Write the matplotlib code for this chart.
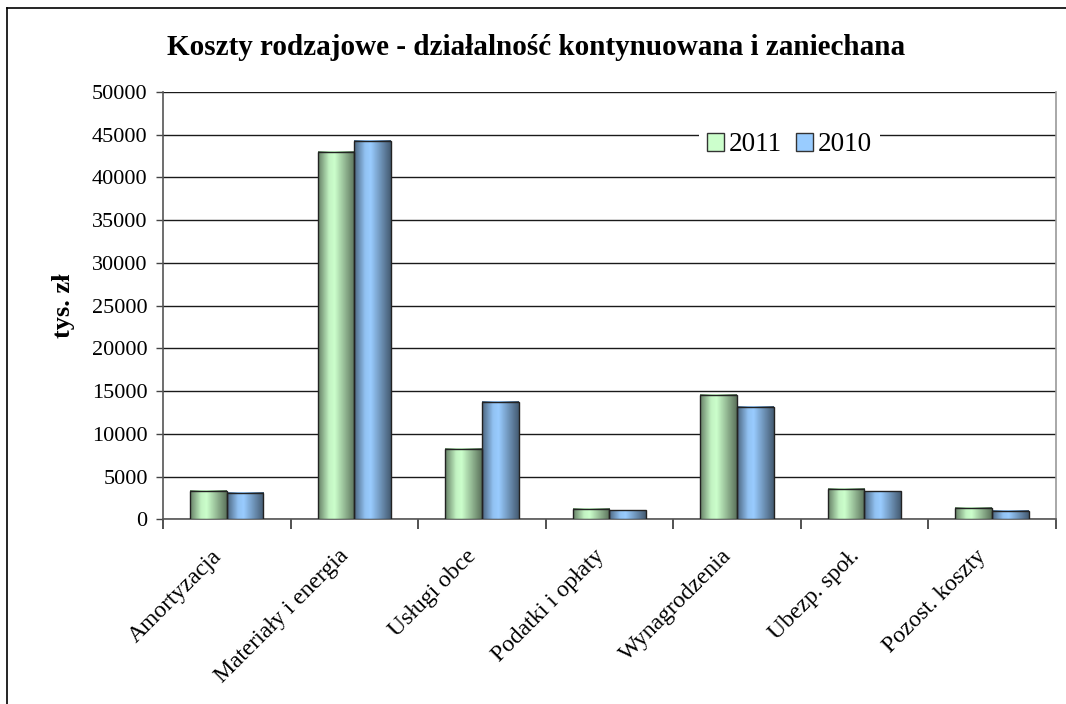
import numpy as np
import matplotlib
matplotlib.use("Agg")
import matplotlib.pyplot as plt
from matplotlib.patches import Patch
from matplotlib.lines import Line2D
from matplotlib.transforms import ScaledTranslation

plt.rcParams['font.family'] = ['Liberation Serif', 'DejaVu Serif']

categories = ['Amortyzacja', 'Materiały i energia', 'Usługi obce', 'Podatki i opłaty',
              'Wynagrodzenia', 'Ubezp. społ.', 'Pozost. koszty']
koszty_2011 = [3350, 43000, 8250, 1250, 14550, 3600, 1300]
koszty_2010 = [3100, 44250, 13750, 1050, 13150, 3250, 950]
years = ['2011', '2010']

green = np.array([0xcc, 0xff, 0xcc]) / 255
blue = np.array([0x99, 0xcc, 0xff]) / 255

fig = plt.figure(figsize=(10.66, 7.04), dpi=100)
ax = fig.add_axes([0.1529, 0.2624, 0.8374, 0.6069])

x = np.arange(len(categories))
w = 0.288

# shading across a bar: dark edges, bright band a bit left of centre
tt = np.linspace(0, 1, 64)
shade = np.interp(tt, [0, 0.3, 0.45, 1], [0.5, 0.95, 1.0, 0.45])

def grad_bars(vals, offset, base):
    bars = ax.bar(x + offset, vals, w, facecolor='none', edgecolor='#222222',
                  linewidth=1.0, zorder=4)
    img = (shade[:, None] * base[None, :])[None, :, :]
    for b in bars:
        x0 = b.get_x()
        ax.imshow(img, extent=[x0, x0 + b.get_width(), 0, b.get_height()],
                  aspect='auto', interpolation='bilinear', zorder=3)
    return bars

grad_bars(koszty_2011, -w / 2, green)
grad_bars(koszty_2010, w / 2, blue)

ax.set_xlim(-0.5, len(categories) - 0.5)
ax.set_ylim(0, 50000)
ax.set_yticks(np.arange(0, 50001, 5000))
ax.yaxis.grid(True, color='#1a1a1a', linewidth=1.0)
ax.set_axisbelow(True)
ax.tick_params(axis='y', labelsize=16, length=5, width=1, color='#444444', pad=6)

ax.set_xticks(x)
ax.set_xticklabels(categories, rotation=45, ha='right', va='top',
                   rotation_mode='anchor', fontsize=17)
ax.tick_params(axis='x', which='major', length=0, pad=19)
shift = ScaledTranslation(-16 / 100, 0, fig.dpi_scale_trans)
for lab in ax.get_xticklabels():
    lab.set_transform(lab.get_transform() + shift)
ax.set_xticks(np.arange(-0.5, len(categories)), minor=True)
ax.tick_params(axis='x', which='minor', length=7, width=1.2, color='#333333')

for s in ['left', 'bottom']:
    ax.spines[s].set_color('#555555')
    ax.spines[s].set_linewidth(1.2)
ax.spines['right'].set_color('#999999')
ax.spines['right'].set_linewidth(1.2)
ax.spines['top'].set_visible(False)

ax.set_ylabel('tys. zł', fontsize=19, fontweight='bold', labelpad=12)

fig.text(0.503, 0.932, 'Koszty rodzajowe - działalność kontynuowana i zaniechana',
         ha='center', va='center', fontsize=21, fontweight='bold')

handles = [Patch(facecolor=green, edgecolor='#333333'),
           Patch(facecolor=blue, edgecolor='#333333')]
leg = ax.legend(handles, years, loc='center', bbox_to_anchor=(0.702, 0.876),
                ncol=2, frameon=True, fontsize=19.5, handlelength=0.62,
                handleheight=0.62, handletextpad=0.2, columnspacing=0.5,
                borderpad=0.3, fancybox=False)
leg.get_frame().set_edgecolor('none')
leg.get_frame().set_facecolor('white')
leg.get_frame().set_alpha(1)
leg.set_zorder(6)

# outer chart frame
fig.add_artist(Line2D([7 / 1066, 7 / 1066], [0, 1 - 8 / 704], color='black', linewidth=1.2))
fig.add_artist(Line2D([7 / 1066, 1], [1 - 8 / 704, 1 - 8 / 704], color='black', linewidth=1.2))

fig.savefig('out.png', dpi=100)
